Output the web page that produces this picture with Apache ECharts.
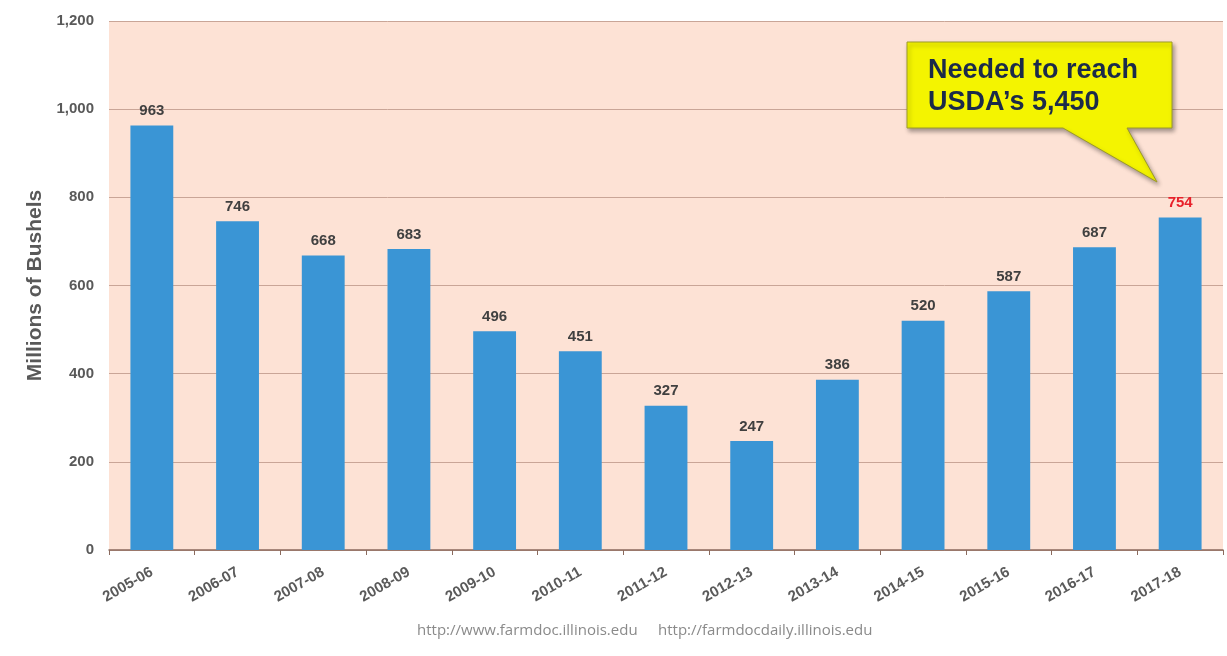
<!DOCTYPE html>
<html>
<head>
<meta charset="utf-8">
<script src="https://cdn.jsdelivr.net/npm/echarts@6/dist/echarts.min.js"></script>
<style>html,body{margin:0;padding:0;background:#fff;}#c{width:1227px;height:656px;}</style>
</head>
<body>
<div id="c"></div>
<script>
const categories = ['2005-06','2006-07','2007-08','2008-09','2009-10','2010-11','2011-12','2012-13','2013-14','2014-15','2015-16','2016-17','2017-18'];
const values = [963,746,668,683,496,451,327,247,386,520,587,687,754];
const highlightIndex = 12;
const calloutLines = ['Needed to reach', 'USDA\u2019s 5,450'];
const footerLeft = 'http://www.farmdoc.illinois.edu';
const footerRight = 'http://farmdocdaily.illinois.edu';

const chart = echarts.init(document.getElementById('c'));
chart.setOption({
  backgroundColor: '#ffffff',
  animation: false,
  grid: { left: 109, right: 4, top: 21, bottom: 106, backgroundColor: '#fde2d5', show: true, borderWidth: 0 },
  xAxis: {
    type: 'category',
    data: categories,
    axisLine: { lineStyle: { color: '#8a6a5e', width: 1.5 } },
    axisTick: { show: true, alignWithLabel: false, length: 5, lineStyle: { color: '#8a6a5e' } },
    axisLabel: { rotate: 30, color: '#5a5a5a', fontWeight: 'bold', fontSize: 15, fontFamily: 'Liberation Sans, Arial', margin: 21 }
  },
  yAxis: {
    type: 'value', min: 0, max: 1200, interval: 200,
    name: 'Millions of Bushels', nameLocation: 'middle', nameGap: 58,
    nameTextStyle: { color: '#595959', fontWeight: 'bold', fontSize: 21, fontFamily: 'Liberation Sans, Arial' },
    axisLine: { show: false }, axisTick: { show: false },
    axisLabel: { color: '#595959', fontWeight: 'bold', fontSize: 15, fontFamily: 'Liberation Sans, Arial', margin: 15,
      formatter: v => v.toLocaleString('en-US') },
    splitLine: { lineStyle: { color: '#c9a597', width: 1 } }
  },
  series: [{
    type: 'bar',
    data: values.map((v, i) => i === highlightIndex ? {
      value: v,
      label: { color: '#e8202a' }
    } : v),
    barCategoryGap: '50%',
    itemStyle: { color: '#3a95d5' },
    label: { show: true, position: 'top', distance: 7, color: '#404040', fontWeight: 'bold', fontSize: 15, fontFamily: 'Liberation Sans, Arial' }
  }],
  graphic: [
    {
      type: 'polygon',
      shape: { points: [[907,42],[1172,42],[1172,128],[1127,128],[1157,182],[1063,128],[907,128]] },
      style: { fill: '#f4f400', stroke: '#9c9a2a', lineWidth: 1, shadowBlur: 4, shadowOffsetX: 2, shadowOffsetY: 3, shadowColor: 'rgba(0,0,0,0.35)' },
      z: 10
    },
    {
      type: 'text', left: 928, top: 55, z: 11,
      style: { text: calloutLines.join('\n'), fill: '#1b2a4a', font: 'bold 27px Liberation Sans, Arial', lineHeight: 32 }
    },
    {
      type: 'text', left: 417, top: 623,
      style: { text: footerLeft, fill: '#8a8a8a', font: '15px Open Sans, sans-serif' }
    },
    {
      type: 'text', left: 658, top: 623,
      style: { text: footerRight, fill: '#8a8a8a', font: '15px Open Sans, sans-serif' }
    }
  ]
});
</script>
</body>
</html>
